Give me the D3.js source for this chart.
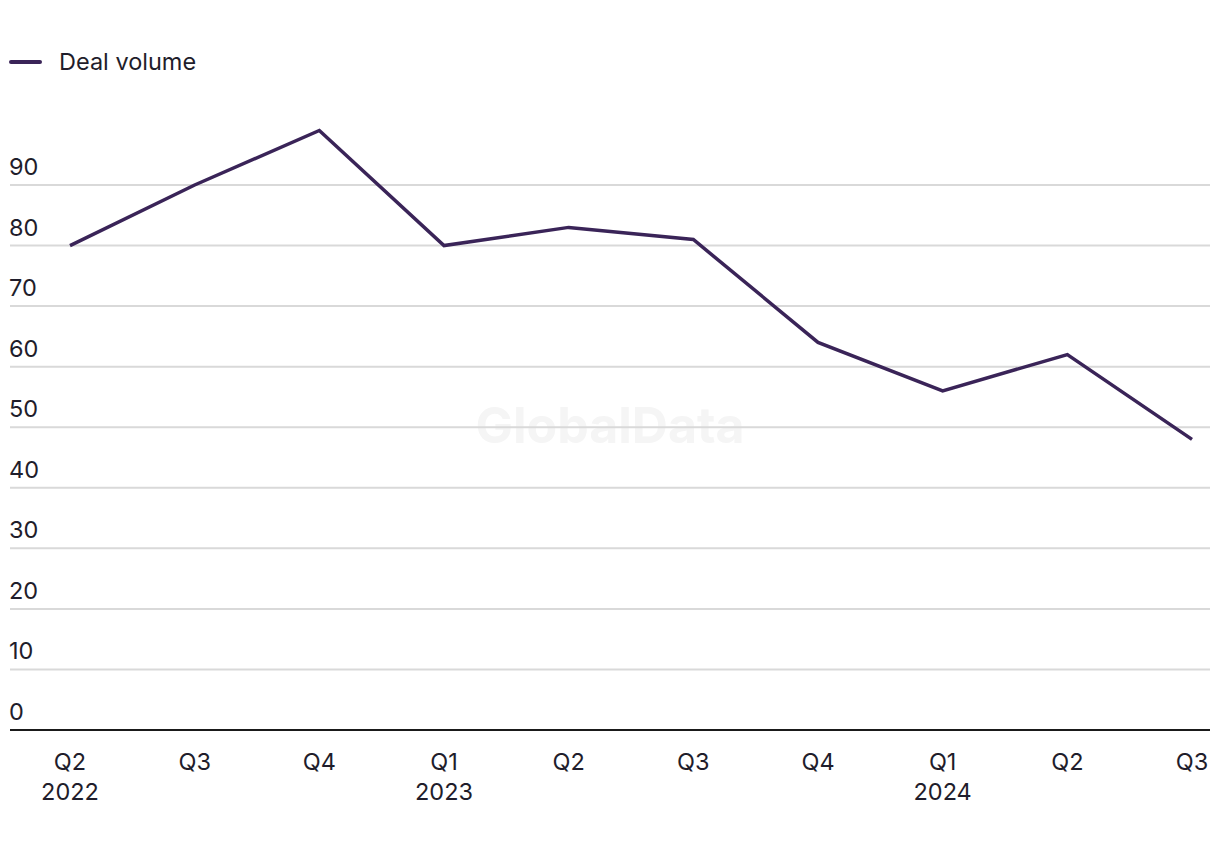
<!DOCTYPE html>
<html>
<head>
<meta charset="utf-8">
<script src="https://cdn.jsdelivr.net/npm/d3@7"></script>
<style>
  html, body { margin: 0; padding: 0; background: #fff; }
  svg { display: block; font-family: Inter, "Noto Sans", sans-serif; }
</style>
</head>
<body>
<svg id="chart" width="1220" height="850"></svg>
<script>
const quarters = ["Q2", "Q3", "Q4", "Q1", "Q2", "Q3", "Q4", "Q1", "Q2", "Q3"];
const years = ["2022", "", "", "2023", "", "", "", "2024", "", ""];
const dealVolume = [80, 90, 99, 80, 83, 81, 64, 56, 62, 48];
const yTicks = [0, 10, 20, 30, 40, 50, 60, 70, 80, 90];
const seriesName = "Deal volume";

const svg = d3.select("#chart");
const lineColor = "#3a2458";
const textColor = "#1f1d2b";
const fs = 23.5;

const idx = d3.range(quarters.length);
const x = d3.scalePoint().domain(idx).range([70, 1192]);
const y = d3.scaleLinear().domain([0, 90]).range([730, 185]);

// watermark
svg.append("text")
  .attr("x", 610).attr("y", 443)
  .attr("text-anchor", "middle")
  .attr("font-size", 50).attr("font-weight", 700)
  .attr("fill", "#f5f5f5")
  .text("GlobalData");

// gridlines
const grid = svg.append("g");
yTicks.filter(d => d > 0).forEach(t => {
  grid.append("line")
    .attr("x1", 10).attr("x2", 1210)
    .attr("y1", y(t)).attr("y2", y(t))
    .attr("stroke", "#d9d9d9").attr("stroke-width", 2);
});

// y labels
yTicks.forEach(t => {
  svg.append("text")
    .attr("x", 9).attr("y", y(t) - 10)
    .attr("font-size", fs).attr("fill", textColor)
    .text(t);
});

// zero axis line
svg.append("line")
  .attr("x1", 10).attr("x2", 1210)
  .attr("y1", y(0)).attr("y2", y(0))
  .attr("stroke", "#1a1a1a").attr("stroke-width", 2);

// x labels
idx.forEach(i => {
  const t = svg.append("text")
    .attr("x", x(i)).attr("text-anchor", "middle")
    .attr("font-size", fs).attr("fill", textColor);
  t.append("tspan").attr("x", x(i)).attr("y", 770).text(quarters[i]);
  if (years[i]) t.append("tspan").attr("x", x(i)).attr("y", 800).text(years[i]);
});

// line
const line = d3.line().x((d, i) => x(i)).y(d => y(d));
svg.append("path")
  .datum(dealVolume)
  .attr("d", line)
  .attr("fill", "none")
  .attr("stroke", lineColor)
  .attr("stroke-width", 3.5)
  .attr("stroke-linejoin", "miter");

// legend
svg.append("line")
  .attr("x1", 11).attr("x2", 40).attr("y1", 62).attr("y2", 62)
  .attr("stroke", lineColor).attr("stroke-width", 4).attr("stroke-linecap", "round");
svg.append("text")
  .attr("x", 59).attr("y", 70)
  .attr("font-size", fs).attr("fill", textColor)
  .text(seriesName);
</script>
</body>
</html>
